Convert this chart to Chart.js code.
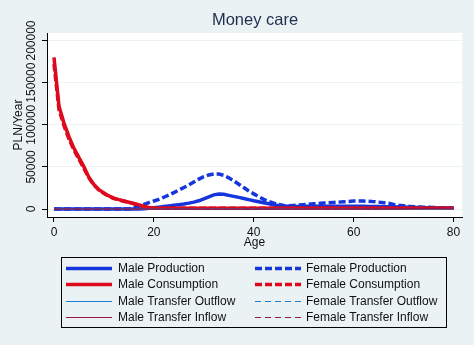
<!DOCTYPE html>
<html>
<head>
<meta charset="utf-8">
<script src="https://cdn.jsdelivr.net/npm/chart.js@4"></script>
<style>
  body { margin: 0; background: #eaf2f3; font-family: "Liberation Sans", Arial, sans-serif; }
  #wrap { position: relative; width: 474px; height: 345px; }
  #title { position: absolute; left: 155px; width: 200px; top: 10px; text-align: center;
           font-size: 16.5px; color: #1f2d4e; }
  #legend { position: absolute; left: 61px; top: 257px; width: 384px; height: 69px;
            border: 1px solid #000; }
  .item { position: absolute; height: 16px; font-size: 12px; color: #111; line-height: 16px; white-space: nowrap; }
  .item svg { position: absolute; left: 0; top: 0; }
  .item span { position: absolute; top: 0; }
</style>
</head>
<body>
<div id="wrap">
  <canvas id="myChart" width="474" height="345"></canvas>
  <div id="title">Money care</div>
  <div id="legend"></div>
</div>
<script>
// ages 0..80
var ages = [0,1,2,3,4,5,6,7,8,9,10,11,12,13,14,15,16,17,18,19,20,21,22,23,24,25,26,27,28,29,30,
  31,32,33,34,35,36,37,38,39,40,41,42,43,44,45,46,47,48,49,50,51,52,53,54,55,56,57,58,59,60,
  61,62,63,64,65,66,67,68,69,70,71,72,73,74,75,76,77,78,79,80];

var maleProduction = [0,0,0,0,0,0,0,0,0,0,0,0,0,0,0,0,0,0,300,800,1500,
  2200,2900,3600,4400,5200,6000,7000,8200,9800,12000,
  14500,16800,17800,17500,16200,15000,13800,12500,11200,9800,
  8600,7400,6200,5000,4000,3400,3200,3100,3100,3200,
  3200,3300,3300,3300,3400,3400,3400,3300,3300,3300,
  3200,3200,3100,3000,2900,2800,2700,2600,2500,2300,
  2100,1900,1700,1600,1500,1400,1300,1300,1200,1200];

var femaleProduction = [0,0,0,0,0,0,0,0,0,0,0,0,0,0,0,0,1500,3500,5500,7500,9500,
  11500,14000,16500,19500,22500,25500,28500,32000,35500,38500,
  40500,41500,41500,40000,37000,33500,29500,25500,21500,18000,
  14500,11500,9000,7000,5300,4200,3800,4200,4700,5200,
  5700,6200,6700,7100,7500,7800,8200,8600,9000,9400,
  9500,9500,9200,8800,8200,7500,6800,5500,4500,3800,
  3200,2800,2500,2200,2000,1800,1600,1500,1400,1300];

var maleConsumption = [180000,122000,102000,86000,72000,61000,50000,37500,29000,23000,19000,
  15500,13000,11200,9600,8100,6600,4900,3300,1900,1200,
  1000,950,950,900,900,900,900,900,900,900,
  900,900,900,900,900,900,900,900,900,900,
  900,900,900,900,900,900,900,900,900,900,
  900,900,900,900,900,900,900,900,900,900,
  900,900,900,900,900,900,900,900,900,900,
  900,900,850,850,850,850,800,800,800,800];

var femaleConsumption = [172000,118000,99000,83000,70000,59000,48000,37000,28500,22500,18500,
  15000,12500,10800,9300,7800,6300,4600,3000,1700,1000,
  900,850,850,850,850,850,850,850,850,850,
  850,850,850,850,850,850,850,850,850,850,
  850,850,850,850,850,850,850,850,850,850,
  850,850,850,850,850,850,850,850,850,850,
  850,850,850,850,850,850,850,850,850,850,
  850,850,800,800,800,800,800,800,800,800];

var maleTransferOutflow = [0,0,0,0,0,0,0,0,0,0,0,0,0,0,0,0,0,0,0,0,100,
  100,100,100,200,200,200,200,200,300,300,
  300,300,300,300,300,300,300,300,300,300,
  300,200,200,200,200,200,200,200,200,200,
  200,200,200,200,200,200,200,200,200,200,
  200,200,200,200,200,200,200,200,200,200,
  200,100,100,100,100,100,100,100,100,100];

var femaleTransferOutflow = [0,0,0,0,0,0,0,0,0,0,0,0,0,0,0,0,0,0,0,100,100,
  200,200,200,300,300,300,400,400,400,400,
  400,400,400,400,400,400,300,300,300,300,
  300,300,200,200,200,200,200,200,200,200,
  200,200,200,200,200,200,200,200,200,200,
  200,200,200,200,200,200,200,200,200,200,
  100,100,100,100,100,100,100,100,100,100];

var maleTransferInflow = [0,0,0,0,0,0,0,0,0,0,0,0,0,0,0,0,0,0,0,0,0,
  0,0,0,0,0,0,0,0,0,0,
  0,0,0,0,0,0,0,0,0,0,
  0,0,0,0,0,0,0,0,0,0,
  100,100,100,100,100,100,100,100,100,100,
  200,200,200,200,300,300,300,400,400,500,
  500,600,600,700,700,800,800,900,900,1000];

var femaleTransferInflow = [0,0,0,0,0,0,0,0,0,0,0,0,0,0,0,0,0,0,0,0,0,
  0,0,0,0,0,0,0,0,0,0,
  0,0,0,0,0,0,0,0,0,0,
  0,0,0,0,0,0,0,0,0,0,
  100,100,100,100,100,100,100,100,100,100,
  200,200,200,200,200,300,300,300,400,400,
  400,500,500,600,600,700,700,800,800,900];

var seriesNames = ['Male Production', 'Female Production', 'Male Consumption', 'Female Consumption',
  'Male Transfer Outflow', 'Female Transfer Outflow', 'Male Transfer Inflow', 'Female Transfer Inflow'];
var xTicks = [0, 20, 40, 60, 80];
var yTicks = [0, 50000, 100000, 150000, 200000];

var BLUE = '#1436dc';
var RED = '#dd0a1e';
var LBLUE = '#1a7fd4';
var MAROON = '#9a1440';

function pts(arr) {
    return ages.map(function (a, i) { return { x: a, y: arr[i] }; });
}

var seriesData = [maleProduction, femaleProduction, maleConsumption, femaleConsumption,
  maleTransferOutflow, femaleTransferOutflow, maleTransferInflow, femaleTransferInflow];
var colors = [BLUE, BLUE, RED, RED, LBLUE, LBLUE, MAROON, MAROON];
var widths = [3.5, 3.5, 3.5, 3.5, 1, 1, 1, 1];
var dashes = [[], [7, 3], [], [7, 3], [], [6, 4], [], [6, 4]];

var datasets = seriesData.map(function (arr, i) {
    return {
        label: seriesNames[i],
        data: pts(arr),
        borderColor: colors[i],
        backgroundColor: colors[i],
        borderWidth: widths[i],
        borderDash: dashes[i],
        pointRadius: 0,
        tension: 0,
        fill: false,
        order: seriesData.length - i   // stata draws later series on top
    };
});

// white plot region
var plotBg = {
    id: 'plotBg',
    beforeDraw: function (chart) {
        var a = chart.chartArea;
        chart.ctx.save();
        chart.ctx.fillStyle = '#ffffff';
        chart.ctx.fillRect(a.left, a.top, a.right - a.left, a.bottom - a.top);
        chart.ctx.restore();
    }
};

var FONT = { family: '"Liberation Sans", Arial, sans-serif', size: 12 };

const ctx = document.getElementById('myChart');

var chart = new Chart(ctx, {
    type: 'line',
    data: { datasets: datasets },
    plugins: [plotBg],
    options: {
        responsive: false,
        animation: false,
        devicePixelRatio: 1,
        layout: { padding: { left: 0, top: 33, right: 12, bottom: 95 } },
        plugins: {
            legend: { display: false },
            title: { display: false },
            tooltip: { enabled: false }
        },
        scales: {
            x: {
                type: 'linear',
                min: -1.4,
                max: 81.7,
                afterBuildTicks: function (s) { s.ticks = xTicks.map(function (v) { return { value: v }; }); },
                afterFit: function (s) { s.height = 33; },
                grid: { drawOnChartArea: false, color: '#000', tickLength: 5 },
                border: { color: '#000', width: 1 },
                ticks: { color: '#111', font: FONT, padding: 3, autoSkip: false, maxRotation: 0 },
                title: { display: true, text: 'Age', color: '#111', font: FONT, padding: { top: 0, bottom: 0 } }
            },
            y: {
                min: -9450,
                max: 208900,
                afterBuildTicks: function (s) { s.ticks = yTicks.map(function (v) { return { value: v }; }); },
                afterFit: function (s) { s.width = 47; },
                grid: { color: '#eaf2f3', tickColor: '#000', tickLength: 5 },
                border: { color: '#000', width: 1 },
                ticks: {
                    color: '#111', font: FONT, autoSkip: false,
                    minRotation: 90, maxRotation: 90,
                    crossAlign: 'center', padding: -10,
                    callback: function (v) { return String(v); }
                },
                title: { display: true, text: 'PLN/Year', color: '#111', font: FONT, padding: { top: 11, bottom: 0 } }
            }
        }
    }
});

// legend in two columns, rows filled left to right
var legend = document.getElementById('legend');
chart.data.datasets.forEach(function (ds, i) {
    var col = i % 2, row = Math.floor(i / 2);
    var item = document.createElement('div');
    item.className = 'item';
    item.style.left = (col === 0 ? 3 : 192) + 'px';
    item.style.top = (2 + row * 16.3) + 'px';
    var dash = ds.borderDash.length ? ' stroke-dasharray="' + ds.borderDash.join(',') + '"' : '';
    item.innerHTML = '<svg width="48" height="16"><line x1="1" y1="8.5" x2="47" y2="8.5" stroke="' +
        ds.borderColor + '" stroke-width="' + ds.borderWidth + '"' + dash + '/></svg>' +
        '<span style="left:' + (col === 0 ? 53 : 52) + 'px">' + ds.label + '</span>';
    legend.appendChild(item);
});
</script>
</body>
</html>
